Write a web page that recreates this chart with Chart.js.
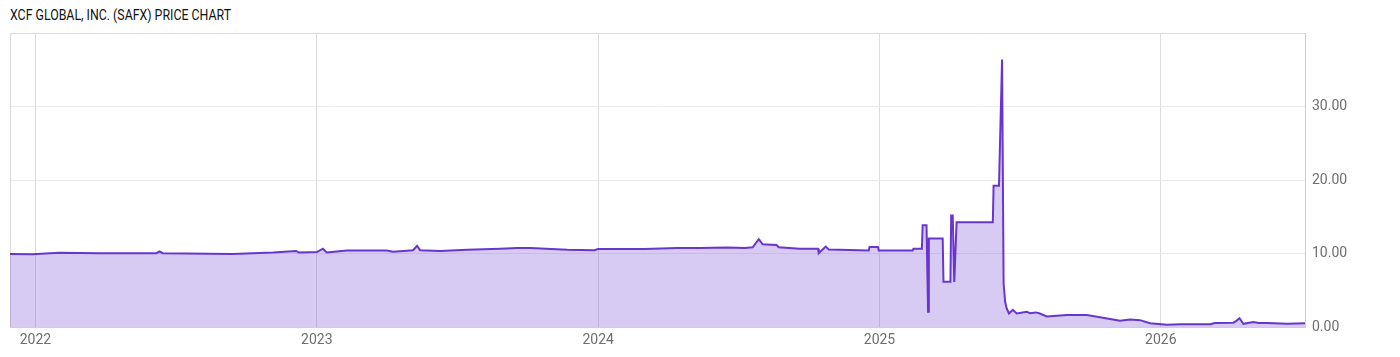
<!DOCTYPE html>
<html>
<head>
<meta charset="utf-8">
<script src="https://cdn.jsdelivr.net/npm/chart.js@4"></script>
<style>
html,body{margin:0;padding:0;background:#fff;}
#wrap{position:relative;width:1400px;height:357px;overflow:hidden;}
#title{position:absolute;left:10px;top:7px;font:14px Roboto, sans-serif;color:#111;white-space:nowrap;transform-origin:left top;}
canvas{position:absolute;left:0;top:0;}
</style>
</head>
<body>
<div id="wrap">
<span id="title">XCF GLOBAL, INC. (SAFX) PRICE CHART</span>
<canvas id="c" width="1400" height="357"></canvas>
</div>
<script>
const dates = [
'2021-11-29','2021-12-28','2022-02-01','2022-03-25','2022-06-07','2022-06-11','2022-06-15','2022-09-14','2022-11-05','2022-12-05',
'2022-12-09','2023-01-01','2023-01-09','2023-01-14','2023-02-09','2023-04-02','2023-04-10','2023-05-06','2023-05-11','2023-05-15',
'2023-06-10','2023-07-15','2023-08-27','2023-09-18','2023-10-05','2023-11-22','2023-12-27','2024-01-01','2024-03-01','2024-04-13',
'2024-05-12','2024-06-17','2024-07-10','2024-07-20','2024-07-28','2024-08-02','2024-08-20','2024-08-23','2024-09-19','2024-10-13',
'2024-10-14','2024-10-19','2024-10-23','2024-10-27','2024-12-06','2024-12-18','2024-12-19','2024-12-30','2024-12-31','2025-02-13',
'2025-02-14','2025-02-25','2025-02-26','2025-03-03','2025-03-05','2025-03-06','2025-03-24','2025-03-25','2025-04-03','2025-04-04',
'2025-04-06','2025-04-08','2025-04-11','2025-05-28','2025-05-29','2025-06-05','2025-06-09','2025-06-11','2025-06-13','2025-06-15',
'2025-06-18','2025-06-23','2025-06-28','2025-07-11','2025-07-15','2025-07-23','2025-07-28','2025-08-06','2025-09-01','2025-09-27',
'2025-10-14','2025-11-09','2025-11-22','2025-12-05','2025-12-18','2026-01-09','2026-01-26','2026-03-06','2026-03-12','2026-04-05',
'2026-04-09','2026-04-13','2026-04-18','2026-05-01','2026-05-08','2026-05-19','2026-06-14','2026-07-07'
];
const prices = [
10.0,9.95,10.15,10.1,10.1,10.35,10.1,10.0,10.18,10.4,
10.2,10.25,10.7,10.2,10.45,10.45,10.3,10.5,11.1,10.5,
10.4,10.55,10.7,10.8,10.8,10.55,10.5,10.65,10.65,10.8,
10.8,10.85,10.8,10.9,12.0,11.3,11.2,10.9,10.7,10.7,
10.1,10.6,11.0,10.6,10.5,10.45,10.95,10.95,10.45,10.45,
10.7,10.7,13.9,13.9,2.15,12.1,12.1,6.2,6.2,15.2,
15.2,6.2,14.3,14.3,19.25,19.25,36.4,6.0,3.5,2.6,
1.9,2.4,1.9,2.15,1.95,2.05,1.9,1.5,1.7,1.7,
1.4,0.93,1.1,1.0,0.57,0.38,0.45,0.45,0.6,0.65,
0.9,1.25,0.5,0.75,0.6,0.6,0.5,0.57
];
const yearTicks = [2022, 2023, 2024, 2025, 2026];
const priceTicks = [0, 10, 20, 30];
const xStart = '2021-11-29';
const xEnd = '2026-07-07';

function toYear(s){
  const [y,m,d] = s.split('-').map(Number);
  const t = Date.UTC(y,m-1,d), a = Date.UTC(y,0,1), b = Date.UTC(y+1,0,1);
  return y + (t-a)/(b-a);
}

// title width fit (condensed look)
const t = document.getElementById('title');
const w = t.getBoundingClientRect().width;
t.style.transform = 'scaleX(' + (221 / w) + ')';

const points = dates.map((d,i)=>({x: toYear(d), y: prices[i]}));

const framePlugin = {
  id: 'frame',
  beforeDatasetsDraw(chart){
    const {ctx, chartArea:a} = chart;
    ctx.save();
    ctx.strokeStyle = '#dcdcdc';
    ctx.lineWidth = 1;
    ctx.beginPath();
    ctx.moveTo(a.left+0.5, a.bottom);
    ctx.lineTo(a.left+0.5, a.top+0.5);
    ctx.lineTo(a.right, a.top+0.5);
    ctx.stroke();
    ctx.restore();
  }
};

new Chart(document.getElementById('c'), {
  type: 'line',
  data: {
    datasets: [{
      data: points,
      borderColor: '#6836cf',
      borderWidth: 2,
      backgroundColor: 'rgba(104,54,207,0.26)',
      fill: 'origin',
      pointRadius: 0,
      pointHoverRadius: 0,
      tension: 0
    }]
  },
  plugins: [framePlugin],
  options: {
    responsive: false,
    animation: false,
    devicePixelRatio: 1,
    layout: { padding: { top: 33, left: 10, right: 0, bottom: 0 } },
    plugins: { legend: { display: false }, tooltip: { enabled: false }, title: { display: false } },
    scales: {
      x: {
        type: 'linear',
        min: toYear(xStart),
        max: toYear(xEnd),
        afterBuildTicks: ax => { ax.ticks = yearTicks.map(v => ({value: v})); },
        afterFit: s => { s.height = 29.5; },
        ticks: {
          autoSkip: false, maxRotation: 0, padding: 5,
          color: '#6e6e6e',
          font: { family: 'Roboto', size: 14 },
          callback: v => String(v)
        },
        grid: { color: '#dddddd', drawTicks: false },
        border: { display: true, color: '#d4d4d4' }
      },
      y: {
        position: 'right',
        min: 0,
        max: 40,
        afterBuildTicks: ax => { ax.ticks = priceTicks.concat([40]).map(v => ({value: v})); },
        afterFit: s => { s.width = 95; },
        ticks: {
          padding: 7,
          color: '#6e6e6e',
          font: { family: 'Roboto', size: 14 },
          callback: v => v === 40 ? '' : Number(v).toFixed(2)
        },
        grid: { color: '#ebebeb', drawTicks: false },
        border: { display: true, color: '#cfcfcf' }
      }
    }
  }
});
</script>
</body>
</html>
